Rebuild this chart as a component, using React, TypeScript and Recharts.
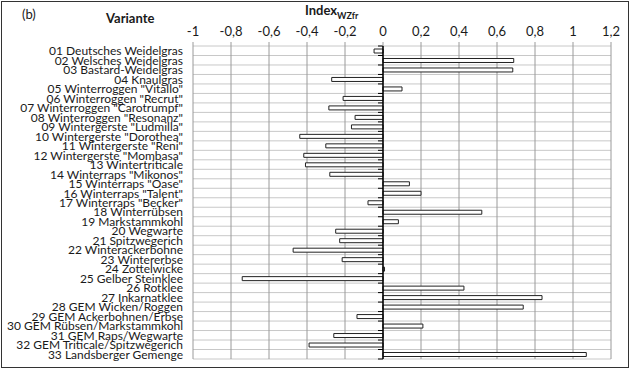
import React from "react";
import { BarChart, Bar, XAxis, YAxis, CartesianGrid, ReferenceLine } from "recharts";

const categories = [
  "01 Deutsches Weidelgras",
  "02 Welsches Weidelgras",
  "03 Bastard-Weidelgras",
  "04 Knaulgras",
  '05 Winterroggen "Vitallo"',
  '06 Winterroggen "Recrut"',
  '07 Winterroggen "Carotrumpf"',
  '08 Winterroggen "Resonanz"',
  '09 Wintergerste "Ludmilla"',
  '10 Wintergerste "Dorothea"',
  '11 Wintergerste "Reni"',
  '12 Wintergerste "Mombasa"',
  "13 Wintertriticale",
  '14 Winterraps "Mikonos"',
  '15 Winterraps "Oase"',
  '16 Winterraps "Talent"',
  '17 Winterraps "Becker"',
  "18 Winterrübsen",
  "19 Markstammkohl",
  "20 Wegwarte",
  "21 Spitzwegerich",
  "22 Winterackerbohne",
  "23 Wintererbse",
  "24 Zottelwicke",
  "25 Gelber Steinklee",
  "26 Rotklee",
  "27 Inkarnatklee",
  "28 GEM Wicken/Roggen",
  "29 GEM Ackerbohnen/Erbse",
  "30 GEM Rübsen/Markstammkohl",
  "31 GEM Raps/Wegwarte",
  "32 GEM Triticale/Spitzwegerich",
  "33 Landsberger Gemenge",
];

const indexValues = [
  -0.047, 0.688, 0.683, -0.27, 0.1, -0.21, -0.285, -0.147, -0.166, -0.438, -0.301,
  -0.417, -0.408, -0.28, 0.139, 0.2, -0.079, 0.52, 0.081, -0.249, -0.228, -0.473,
  -0.215, 0.008, -0.741, 0.426, 0.837, 0.738, -0.137, 0.21, -0.259, -0.389, 1.07,
];

const xTicks = [-1, -0.8, -0.6, -0.4, -0.2, 0, 0.2, 0.4, 0.6, 0.8, 1, 1.2];

const data = categories.map((name, i) => ({ name, v: indexValues[i] }));

const FONT = "Lato, 'Open Sans', sans-serif";

const fmt = (v: number) => String(Math.round(v * 10) / 10).replace(".", ",");

const CatTick = (props: any) => {
  const { y, payload } = props;
  return (
    <text
      x={183}
      y={y}
      dy={4.5}
      textAnchor="end"
      fontFamily={FONT}
      fontSize={12}
      fill="#1a1a1a"
    >
      {payload.value}
    </text>
  );
};

const ZeroAxis = (props: any) => {
  const { x1, y1, x2, y2 } = props;
  if (x1 == null || y1 == null) return null;
  const top = Math.min(y1, y2);
  const bottom = Math.max(y1, y2);
  const n = categories.length;
  const step = (bottom - top) / n;
  const ticks = [];
  for (let i = 0; i <= n; i++) {
    const yy = top + i * step;
    ticks.push(<line key={i} x1={x1 - 5} x2={x1} y1={yy} y2={yy} stroke="#000" strokeWidth={1} />);
  }
  return (
    <g>
      {ticks}
      <line x1={x1} x2={x2} y1={y1} y2={y2} stroke="#000" strokeWidth={1.5} />
    </g>
  );
};

export default function App() {
  return (
    <div style={{ position: "relative", width: 630, height: 369 }}>
      <style>{"body{margin:0}"}</style>
      <div
        style={{
          position: "absolute",
          left: 1,
          top: 1,
          width: 626,
          height: 365,
          border: "1px solid #333",
        }}
      />
      <BarChart
        width={630}
        height={369}
        data={data}
        layout="vertical"
        margin={{ top: 0, right: 19, bottom: 10, left: 0 }}
        barCategoryGap={0}
      >
        <CartesianGrid
          vertical={false}
          stroke="#c8c8c8"
          horizontalCoordinatesGenerator={({ offset }: any) => {
            const arr: number[] = [];
            for (let i = 0; i <= categories.length; i++) {
              arr.push(offset.top + (i * offset.height) / categories.length);
            }
            return arr;
          }}
        />
        <CartesianGrid horizontal={false} stroke="#9a9a9a" />
        <XAxis
          type="number"
          orientation="top"
          domain={[-1, 1.2]}
          ticks={xTicks}
          tickFormatter={fmt}
          allowDataOverflow
          height={46}
          axisLine={false}
          tickSize={4}
          tickLine={{ stroke: "#9a9a9a" }}
          tickMargin={6}
          tick={{ fontFamily: FONT, fontSize: 13, fill: "#1a1a1a" }}
        />
        <YAxis
          type="category"
          dataKey="name"
          width={193}
          axisLine={false}
          tickLine={false}
          interval={0}
          tick={<CatTick />}
        />
        <ReferenceLine x={0} stroke="#000" shape={<ZeroAxis />} ifOverflow="visible" />
        <Bar dataKey="v" fill="#ffffff" stroke="#222" strokeWidth={1} barSize={4} isAnimationActive={false} />
      </BarChart>
      <div style={{ position: "absolute", left: 22, top: 6, fontFamily: FONT, fontSize: 13, color: "#1a1a1a" }}>(b)</div>
      <div style={{ position: "absolute", left: 106, top: 10, fontFamily: FONT, fontSize: 13, fontWeight: "bold", color: "#1a1a1a" }}>Variante</div>
      <div style={{ position: "absolute", left: 305, top: 2, fontFamily: FONT, fontSize: 13, fontWeight: "bold", color: "#1a1a1a", whiteSpace: "nowrap" }}>
        Index<span style={{ fontSize: 9, position: "relative", top: 4 }}>WZfr</span>
      </div>
    </div>
  );
}
